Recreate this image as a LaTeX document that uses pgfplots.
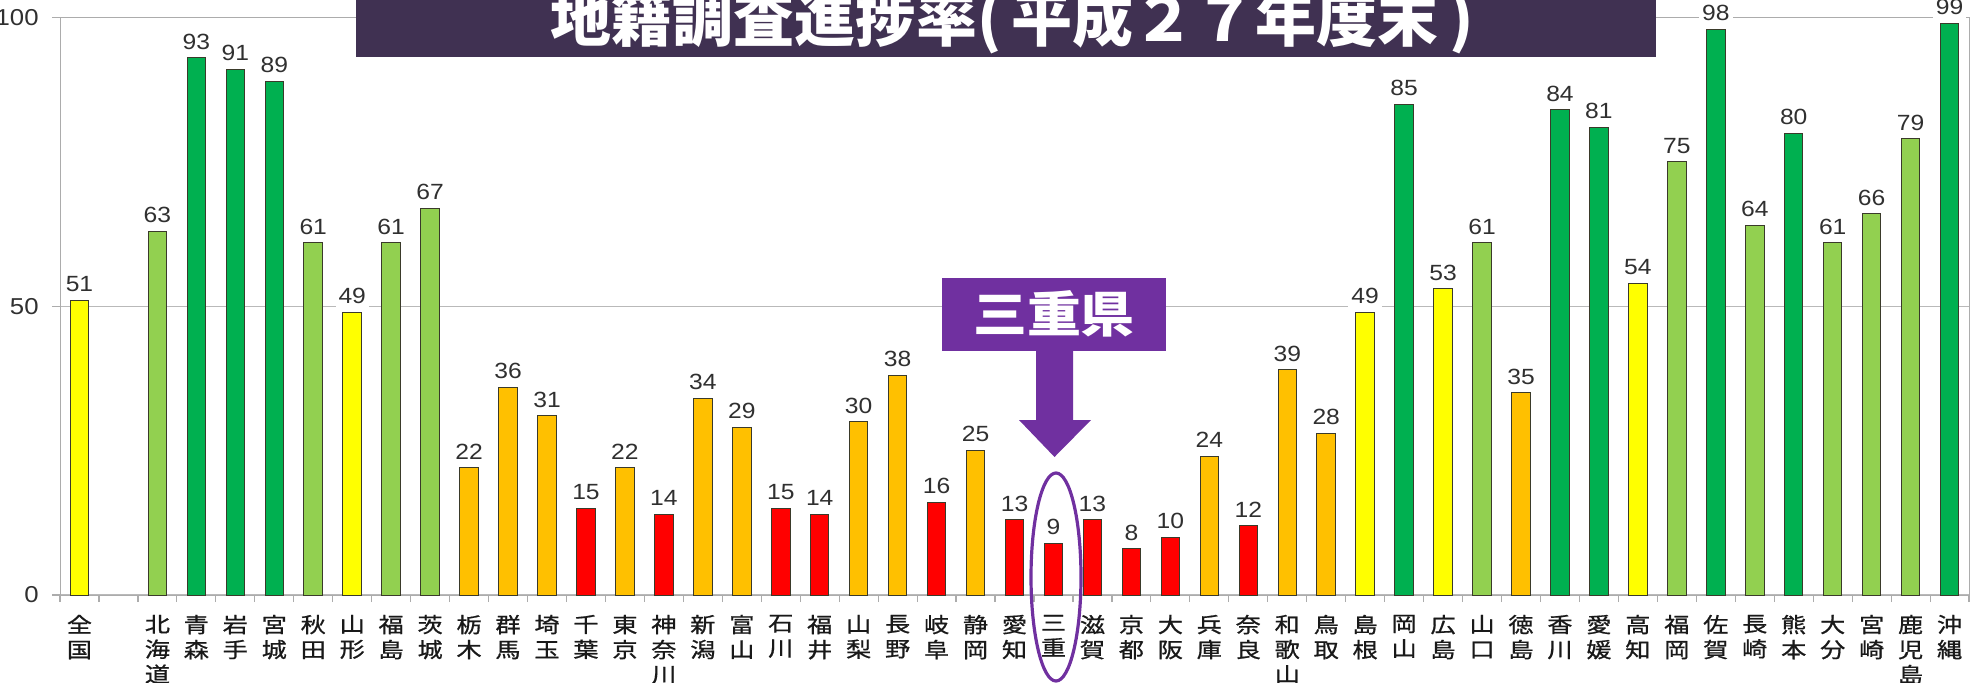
\documentclass[border=0pt]{standalone}
\usepackage{pgfplots}
\pgfplotsset{compat=1.18}
\usepackage{fontspec}
\setmainfont{Liberation Sans}
\newfontfamily\numfont[FakeStretch=1.12]{Liberation Sans}
\newfontfamily\cjk[FakeStretch=1.2, FakeBold=0.8]{Noto Sans CJK JP}
\newfontfamily\cjkt{Noto Sans CJK JP}
\newfontfamily\cjkm[FakeStretch=1.1]{Noto Sans CJK JP}
\definecolor{cRed}{HTML}{FF0000}
\definecolor{cOrange}{HTML}{FFC000}
\definecolor{cYellow}{HTML}{FFFF00}
\definecolor{cLGreen}{HTML}{92D050}
\definecolor{cDGreen}{HTML}{00B050}
\definecolor{barline}{HTML}{3A3A2A}
\definecolor{titlebg}{HTML}{403152}
\definecolor{mie}{HTML}{7030A0}
\definecolor{txt}{HTML}{303030}
\begin{document}
\begin{tikzpicture}
\begin{axis}[
  at={(30pt,43.5pt)}, anchor=south west,
  scale only axis,
  x=19.48pt, y=2.8875pt,
  xmin=-0.5, xmax=48.5, ymin=0, ymax=100,
  clip=false,
  ybar, bar width=9.25pt,
  axis line style={draw=gray!65},
  ymajorgrids, grid style={draw=gray!55, line width=0.6pt},
  ytick={0,50,100},
  xtick={0,2,3,4,5,6,7,8,9,10,11,12,13,14,15,16,17,18,19,20,21,22,23,24,25,26,27,28,29,30,31,32,33,34,35,36,37,38,39,40,41,42,43,44,45,46,47,48},
  xticklabels={{全\\国},{北\\海\\道},{青\\森},{岩\\手},{宮\\城},{秋\\田},{山\\形},{福\\島},{茨\\城},{栃\\木},{群\\馬},{埼\\玉},{千\\葉},{東\\京},{神\\奈\\川},{新\\潟},{富\\山},{石\\川},{福\\井},{山\\梨},{長\\野},{岐\\阜},{静\\岡},{愛\\知},{三\\重},{滋\\賀},{京\\都},{大\\阪},{兵\\庫},{奈\\良},{和\\歌\\山},{鳥\\取},{島\\根},{岡\\山},{広\\島},{山\\口},{徳\\島},{香\\川},{愛\\媛},{高\\知},{福\\岡},{佐\\賀},{長\\崎},{熊\\本},{大\\分},{宮\\崎},{鹿\\児\\島},{沖\\縄}},
  minor xtick={-0.5,0.5,...,48.5},
  xtick pos=bottom, ytick pos=left,
  tick align=outside,
  major tick length=4pt, minor tick length=3.5pt,
  major x tick style={draw=none},
  minor x tick style={draw=gray!65, line width=0.6pt},
  major y tick style={draw=gray!65, line width=0.6pt},
  xticklabel style={font=\cjk\fontsize{10.5}{12.5}\selectfont, align=center, anchor=north, inner sep=0pt, text=black!90, yshift=-5.75pt},
  yticklabel style={font=\numfont\fontsize{11.5}{14}\selectfont, anchor=east, inner sep=0pt, text=txt, xshift=-6.5pt},
  /pgf/number format/assume math mode=true,
  nodes near coords,
  every node near coord/.append style={font=\numfont\fontsize{11}{13}\selectfont, text=txt, fill=white, inner sep=1.5pt, anchor=south, yshift=2.5pt},
  mybar/.style={bar shift=0pt, draw=barline, line width=0.5pt},
]
\addplot[mybar, fill=cRed] coordinates {(13,15) (15,14) (18,15) (19,14) (22,16) (24,13) (25,9) (26,13) (27,8) (28,10) (30,12)};
\addplot[mybar, fill=cOrange] coordinates {(10,22) (11,36) (12,31) (14,22) (16,34) (17,29) (20,30) (21,38) (23,25) (29,24) (31,39) (32,28) (37,35)};
\addplot[mybar, fill=cYellow] coordinates {(0,51) (7,49) (33,49) (35,53) (40,54)};
\addplot[mybar, fill=cLGreen] coordinates {(2,63) (6,61) (8,61) (9,67) (36,61) (41,75) (43,64) (45,61) (46,66) (47,79)};
\addplot[mybar, fill=cDGreen] coordinates {(3,93) (4,91) (5,89) (34,85) (38,84) (39,81) (42,98) (44,80) (48,99)};
\end{axis}
% title
\fill[titlebg] (178pt,312.5pt) rectangle (828pt,350pt);
\node[anchor=base, inner sep=0pt, text=white] at (506pt,320pt) {\cjkt\bfseries\fontsize{30.5}{30.5}\selectfont 地籍調査進捗率(\,平成２７年度末\,)};
% highlight
\fill[mie] (471pt,165.5pt) rectangle (583pt,202pt);
\node[inner sep=0pt, text=white] at (527pt,184pt) {\cjkm\bfseries\fontsize{24.5}{24.5}\selectfont 三重県};
\fill[mie] (518pt,166pt) -- (536.5pt,166pt) -- (536.5pt,131pt) -- (545.5pt,131pt) -- (527.25pt,112.5pt) -- (509.5pt,131pt) -- (518pt,131pt) -- cycle;
\draw[mie, line width=1.6pt] (528pt,52.5pt) ellipse [x radius=12.5pt, y radius=52pt];
\pgfresetboundingbox
\useasboundingbox (0,0) rectangle (990pt,341pt);
\end{tikzpicture}
\end{document}
